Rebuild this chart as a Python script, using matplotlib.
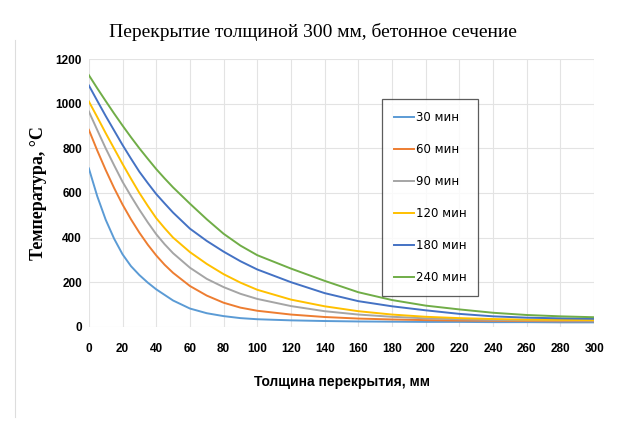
import numpy as np
import matplotlib.pyplot as plt
from matplotlib.lines import Line2D

# Thickness positions, mm
depth = [0, 5, 10, 15, 20, 25, 30, 35, 40, 45, 50, 60, 70, 80, 90, 100,
         120, 140, 160, 180, 200, 220, 240, 260, 280, 300]

# Temperatures, degC
t30 = [710, 585, 480, 395, 325, 272, 232, 198, 168, 143, 118, 82, 61, 48, 39, 34,
       29, 26, 24, 23, 22, 22, 21, 21, 20, 20]
t60 = [883, 790, 703, 622, 548, 482, 422, 368, 320, 278, 242, 183, 140, 108, 86, 72,
       55, 44, 37, 33, 30, 28, 27, 26, 25, 25]
t90 = [965, 882, 800, 724, 650, 586, 525, 468, 415, 370, 330, 265, 215, 178, 148, 125,
       93, 70, 55, 45, 38, 34, 31, 29, 28, 27]
t120 = [1010, 940, 868, 799, 730, 664, 600, 542, 487, 442, 400, 335, 282, 236, 198, 166,
        122, 92, 70, 55, 45, 39, 35, 32, 31, 30]
t180 = [1082, 1013, 945, 880, 815, 754, 695, 644, 595, 553, 512, 440, 385, 337, 294, 257,
        200, 151, 115, 92, 74, 58, 47, 41, 38, 36]
t240 = [1128, 1069, 1012, 956, 902, 850, 800, 753, 707, 665, 625, 552, 482, 417, 364, 321,
        261, 206, 155, 120, 95, 78, 63, 53, 47, 43]

series = [t30, t60, t90, t120, t180, t240]
labels = ["30 мин", "60 мин", "90 мин", "120 мин", "180 мин", "240 мин"]
colors = ["#5B9BD5", "#ED7D31", "#A5A5A5", "#FFC000", "#4472C4", "#70AD47"]

fig = plt.figure(figsize=(6.17, 4.25), dpi=100)
ax = fig.add_axes([0.144, 0.231, 0.819, 0.630])

for vals, lab, col in zip(series, labels, colors):
    ax.plot(depth, vals, color=col, lw=1.4, label=lab)

ax.set_xlim(0, 300)
ax.set_ylim(0, 1200)
ax.set_xticks(np.arange(0, 301, 20))
ax.set_yticks(np.arange(0, 1201, 200))
ax.grid(True, color="#E3E3E3", lw=0.8)
ax.set_axisbelow(True)
for s in ax.spines.values():
    s.set_visible(False)
ax.tick_params(length=0, labelsize=8.5, pad=12)
ax.tick_params(axis="y", pad=5)
for t in ax.get_xticklabels() + ax.get_yticklabels():
    t.set_fontweight("bold")
    t.set_family("Liberation Sans")

ax.set_xlabel("Толщина перекрытия, мм", fontsize=10, fontweight="bold",
              family="Liberation Sans", labelpad=14)
ax.set_ylabel("Температура, °C", fontsize=13, fontweight="bold",
              family="Liberation Serif", labelpad=6)

fig.text(0.507, 0.925, "Перекрытие толщиной 300 мм, бетонное сечение",
         ha="center", va="center", fontsize=14, family="Liberation Serif")

leg = ax.legend(loc="upper left", bbox_to_anchor=(0.58, 0.851),
                fontsize=8.5, frameon=True, fancybox=False,
                handlelength=1.7, handletextpad=0.15, labelspacing=1.62,
                borderpad=1.0, borderaxespad=0)
leg.get_frame().set_edgecolor("#333333")
leg.get_frame().set_linewidth(0.9)

# faint left border of the source image
fig.add_artist(Line2D([0.024, 0.024], [0.02, 0.905], color="#DDDDDD", lw=0.8))

fig.savefig("out.png", dpi=100)
